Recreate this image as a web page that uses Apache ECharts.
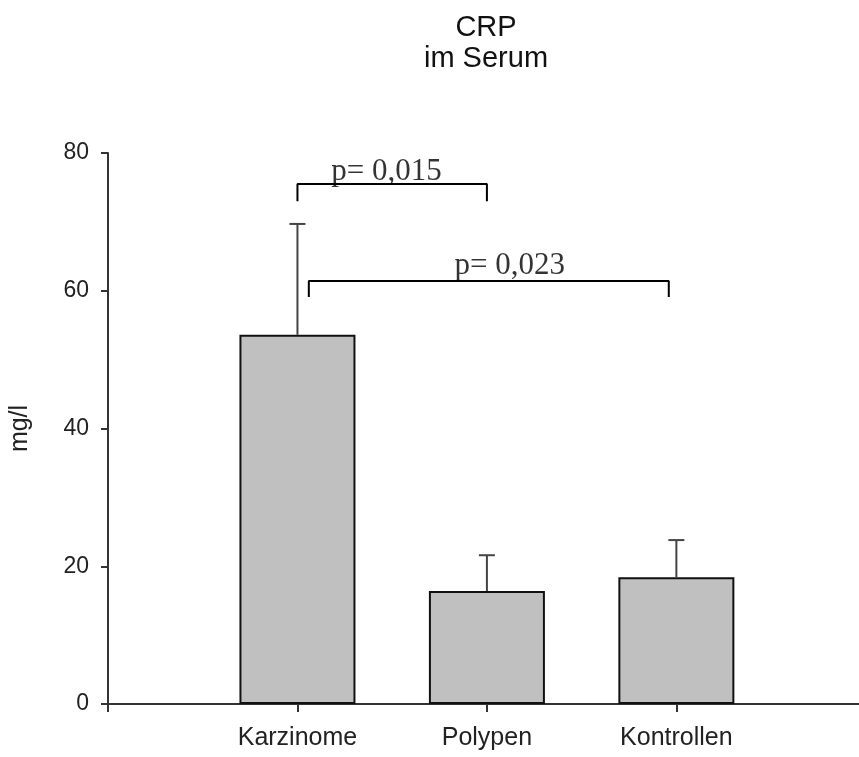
<!DOCTYPE html>
<html>
<head>
<meta charset="utf-8">
<script src="https://cdn.jsdelivr.net/npm/echarts@6/dist/echarts.min.js"></script>
<style>html,body{margin:0;padding:0;background:#fff;}#c{width:859px;height:757px;}</style>
</head>
<body>
<div id="c"></div>
<script>
// ---- data ----
var categories = ['Karzinome', 'Polypen', 'Kontrollen'];
var means = [53.6, 16.4, 18.4];
var errTops = [69.7, 21.6, 23.8];
var yTicks = [0, 20, 40, 60, 80];
var bracket1 = [[1.0, 73.0], [1.0, 75.5], [2.0, 75.5], [2.0, 73.0]];
var bracket2 = [[1.06, 59.1], [1.06, 61.4], [2.96, 61.4], [2.96, 59.1]];
var pLabels = [
  {x: 1.47, y: 77.2, text: 'p= 0,015'},
  {x: 2.12, y: 63.6, text: 'p= 0,023'}
];

var barData = categories.map(function (c, i) { return [i + 1, means[i]]; });
var errData = categories.map(function (c, i) { return [i + 1, means[i], errTops[i]]; });
var xTickValues = [0].concat(categories.map(function (c, i) { return i + 1; }));
var xLabelValues = categories.map(function (c, i) { return i + 1; });

var chart = echarts.init(document.getElementById('c'));
var sans = 'Arial, "Liberation Sans", sans-serif';
var serif = '"Times New Roman", "Liberation Serif", serif';

chart.setOption({
  animation: false,
  backgroundColor: '#ffffff',
  title: {
    text: 'CRP\nim Serum',
    left: 481,
    textAlign: 'center',
    top: 7,
    textStyle: {fontFamily: sans, fontSize: 29, fontWeight: 'normal', color: '#111', lineHeight: 31}
  },
  grid: {left: 98, right: 0, top: 153, bottom: 53, containLabel: false},
  xAxis: {
    type: 'value',
    min: 0, max: 3.964, interval: 1,
    splitLine: {show: false},
    axisLine: {lineStyle: {color: '#333', width: 2}},
    axisTick: {show: true, length: 8, customValues: xTickValues, lineStyle: {color: '#333', width: 2}},
    axisLabel: {
      margin: 22,
      customValues: xLabelValues,
      fontFamily: sans, fontSize: 25, color: '#222',
      formatter: function (v) {
        var i = Math.round(v);
        return (i >= 1 && i <= categories.length) ? categories[i - 1] : '';
      }
    }
  },
  yAxis: {
    type: 'value',
    min: yTicks[0], max: yTicks[yTicks.length - 1], interval: 20,
    name: 'mg/l',
    nameLocation: 'middle',
    nameRotate: 90,
    nameGap: 75,
    nameTextStyle: {fontFamily: sans, fontSize: 25, color: '#222'},
    splitLine: {show: false},
    axisLine: {show: true, lineStyle: {color: '#333', width: 2}},
    axisTick: {show: true, length: 7, lineStyle: {color: '#333', width: 2}},
    axisLabel: {margin: 19, fontFamily: sans, fontSize: 23, color: '#222'}
  },
  series: [
    {
      type: 'bar',
      data: barData,
      barWidth: 116,
      itemStyle: {color: '#c0c0c0', borderColor: '#111', borderWidth: 2}
    },
    {
      type: 'custom',
      data: errData,
      z: 5,
      renderItem: function (params, api) {
        var x = api.value(0);
        var p0 = api.coord([x, api.value(1)]);
        var p1 = api.coord([x, api.value(2)]);
        var hw = 8;
        return {
          type: 'group',
          children: [
            {type: 'line', shape: {x1: p0[0], y1: p0[1], x2: p1[0], y2: p1[1]}, style: {stroke: '#444', lineWidth: 2}},
            {type: 'line', shape: {x1: p1[0] - hw, y1: p1[1], x2: p1[0] + hw, y2: p1[1]}, style: {stroke: '#444', lineWidth: 2}}
          ]
        };
      }
    },
    {
      type: 'line', data: bracket1, symbol: 'none', z: 6,
      lineStyle: {color: '#000', width: 2}
    },
    {
      type: 'line', data: bracket2, symbol: 'none', z: 6,
      lineStyle: {color: '#000', width: 2}
    },
    {
      type: 'scatter', symbolSize: 0, z: 7,
      data: pLabels.map(function (p) { return {value: [p.x, p.y], name: p.text}; }),
      label: {
        show: true, position: 'inside',
        formatter: function (d) { return d.name; },
        fontFamily: serif, fontSize: 31, color: '#000'
      }
    }
  ]
});
</script>
</body>
</html>
